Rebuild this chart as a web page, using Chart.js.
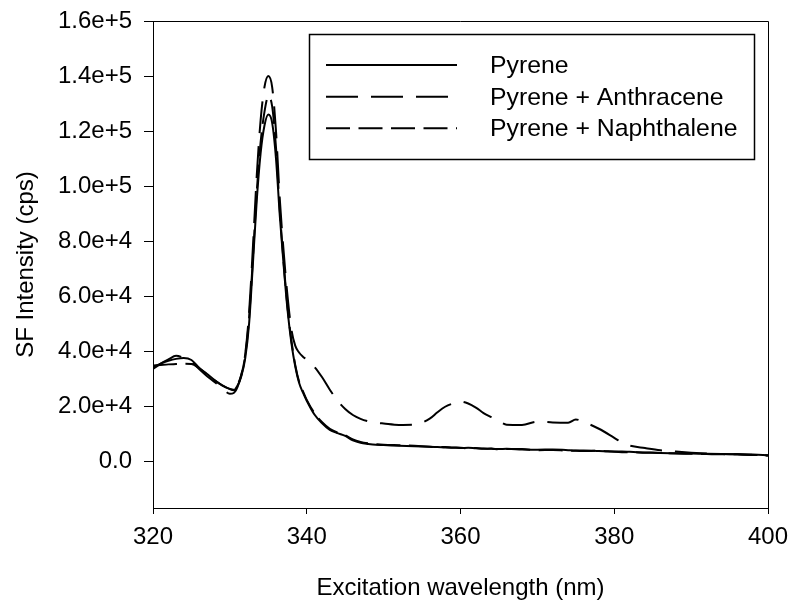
<!DOCTYPE html>
<html>
<head>
<meta charset="utf-8">
<script src="https://cdn.jsdelivr.net/npm/chart.js@4"></script>
<style>
  html, body { margin: 0; padding: 0; background: #fff; }
  #c { display: block; }
</style>
</head>
<body>
<canvas id="c" width="789" height="603" style="width:789px;height:603px"></canvas>
<script>
// excitation wavelengths (nm), shared by the three spectra
const wavelengths = [320, 321, 322, 323, 324, 325, 326, 327, 328, 329, 330, 330.5, 331, 331.5, 332, 332.5,
  333, 333.5, 334, 334.5, 335, 335.5, 336, 336.5, 337, 337.5, 338, 338.5, 339, 339.5, 340, 341, 342, 343,
  344, 345, 346, 347, 348, 349, 350, 352, 354, 356, 357, 358, 359, 360, 361, 362, 363, 364, 365, 366, 368,
  370, 372, 374, 375, 376, 378, 380, 381, 382, 384, 386, 388, 390, 392, 394, 396, 398, 400];

// SF intensity (cps)
const pyrene = [34200, 35500, 36500, 37200, 37500, 36800, 34000, 31800, 29500, 27600, 26200, 25800, 27500, 31000, 37500, 50000,
  72000, 95000, 112000, 122000, 126000, 123000, 110000, 89000, 71000, 55000, 43000, 34500, 28500, 25000, 22000, 17000, 13800, 11400,
  10200, 9200, 7600, 6700, 6300, 6000, 5900, 5600, 5400, 5300, 5200, 5000, 4900, 4800, 4900, 4700, 4600, 4500, 4400, 4500, 4300,
  4200, 4300, 4000, 3900, 3900, 3700, 3500, 3500, 3400, 3200, 3000, 2900, 2800, 2700, 2600, 2500, 2400, 2200];

const pyreneAnthracene = [33500, 35500, 37000, 38300, 37600, 36200, 33500, 31000, 28800, 26500, 24500, 24800, 27000, 31500, 39000, 54000,
  78000, 104000, 124000, 136000, 140000, 136000, 120000, 95000, 76000, 60000, 48000, 42000, 39500, 38000, 36900, 34300, 30500, 26000,
  22000, 19000, 16800, 15400, 14500, 14000, 13700, 13200, 13300, 15500, 17800, 19800, 21000, 21700, 21000, 19500, 17500, 16000, 14500, 13300, 13200,
  14400, 14100, 14000, 15200, 14300, 11800, 8500, 6800, 5700, 4800, 4000, 3500, 3100, 2800, 2600, 2500, 2300, 2100];

const pyreneNaphthalene = [34800, 35000, 35200, 35300, 35400, 35300, 33800, 31600, 29400, 27600, 26300, 26000, 27800, 31500, 38500, 52000,
  74000, 98000, 116000, 127000, 132500, 129000, 114000, 91000, 72000, 56000, 44000, 35000, 29000, 25500, 22300, 17500, 14200, 11800,
  10400, 9400, 7900, 7000, 6500, 6200, 6000, 5800, 5600, 5300, 5100, 5200, 5000, 4900, 4700, 4800, 4500, 4600, 4300, 4400, 4400,
  4000, 4100, 3800, 3800, 3700, 3800, 3400, 3300, 3300, 3100, 3000, 2800, 2700, 2600, 2500, 2500, 2300, 2100];

const seriesNames = ['Pyrene', 'Pyrene + Anthracene', 'Pyrene + Naphthalene'];
const yTicks = [0, 20000, 40000, 60000, 80000, 100000, 120000, 140000, 160000];

const font = { family: '"Liberation Sans", Arial, sans-serif', size: 24 };

function toPoints(vals) {
  return wavelengths.map((w, i) => ({ x: w, y: vals[i] }));
}

// box around the plot + the legend box inside it
const framePlugin = {
  id: 'frame',
  afterDatasetsDraw(chart) {
    const { ctx, chartArea: a } = chart;
    ctx.save();
    ctx.strokeStyle = '#000';
    ctx.lineWidth = 1;
    ctx.beginPath();
    ctx.moveTo(a.left, a.top + 0.5);
    ctx.lineTo(a.right + 0.5, a.top + 0.5);
    ctx.lineTo(a.right + 0.5, a.bottom);
    ctx.stroke();

    // legend
    const box = { x: 309, y: 34, w: 445, h: 125 };
    ctx.fillStyle = '#fff';
    ctx.fillRect(box.x, box.y, box.w, box.h);
    ctx.lineWidth = 1.5;
    ctx.strokeRect(box.x + 0.5, box.y + 0.5, box.w, box.h);
    const rows = [65, 96.7, 128.3];
    chart.data.datasets.forEach((ds, i) => {
      ctx.lineWidth = ds.borderWidth;
      ctx.setLineDash(ds.borderDash || []);
      ctx.beginPath();
      ctx.moveTo(326, rows[i]);
      ctx.lineTo(457, rows[i]);
      ctx.stroke();
      ctx.setLineDash([]);
      ctx.fillStyle = '#000';
      ctx.font = '24.8px ' + font.family;
      ctx.textBaseline = 'middle';
      ctx.textAlign = 'left';
      ctx.fillText(ds.label, 490, rows[i] + 1);
    });
    ctx.restore();
  }
};

new Chart(document.getElementById('c'), {
  type: 'line',
  data: {
    datasets: [
      { label: seriesNames[0], data: toPoints(pyrene), borderDash: [] },
      { label: seriesNames[1], data: toPoints(pyreneAnthracene), borderDash: [32, 13] },
      { label: seriesNames[2], data: toPoints(pyreneNaphthalene), borderDash: [24, 8.5] }
    ].map(d => Object.assign(d, {
      borderColor: '#000', borderWidth: 2, pointRadius: 0, fill: false,
      cubicInterpolationMode: 'monotone'
    }))
  },
  options: {
    responsive: false,
    animation: false,
    layout: { padding: { left: 0, top: 21, right: 21, bottom: 0 } },
    plugins: { legend: { display: false }, tooltip: { enabled: false } },
    scales: {
      x: {
        type: 'linear', min: 320, max: 400,
        afterFit(s) { s.height = 95; s.paddingLeft = 0; s.paddingRight = 0; },
        ticks: { stepSize: 20, color: '#000', font, padding: 9, maxRotation: 0 },
        grid: { drawOnChartArea: false, drawTicks: true, tickLength: 6, tickColor: '#000' },
        border: { display: true, color: '#000', width: 1 },
        title: { display: true, text: 'Excitation wavelength (nm)', color: '#000', font, padding: { top: 0, bottom: 0 } }
      },
      y: {
        type: 'linear', min: -17000, max: 160000,
        afterBuildTicks(s) { s.ticks = yTicks.map(v => ({ value: v })); },
        afterFit(s) { s.width = 153; s.paddingTop = 0; s.paddingBottom = 0; },
        ticks: {
          color: '#000', font, padding: 12,
          callback: v => v === 0 ? '0.0' : v.toExponential(1)
        },
        grid: { drawOnChartArea: false, drawTicks: true, tickLength: 9, tickColor: '#000' },
        border: { display: true, color: '#000', width: 1 },
        title: { display: true, text: 'SF Intensity (cps)', color: '#000', font, padding: { top: 12, bottom: 0 } }
      }
    }
  },
  plugins: [framePlugin]
});
</script>
</body>
</html>
